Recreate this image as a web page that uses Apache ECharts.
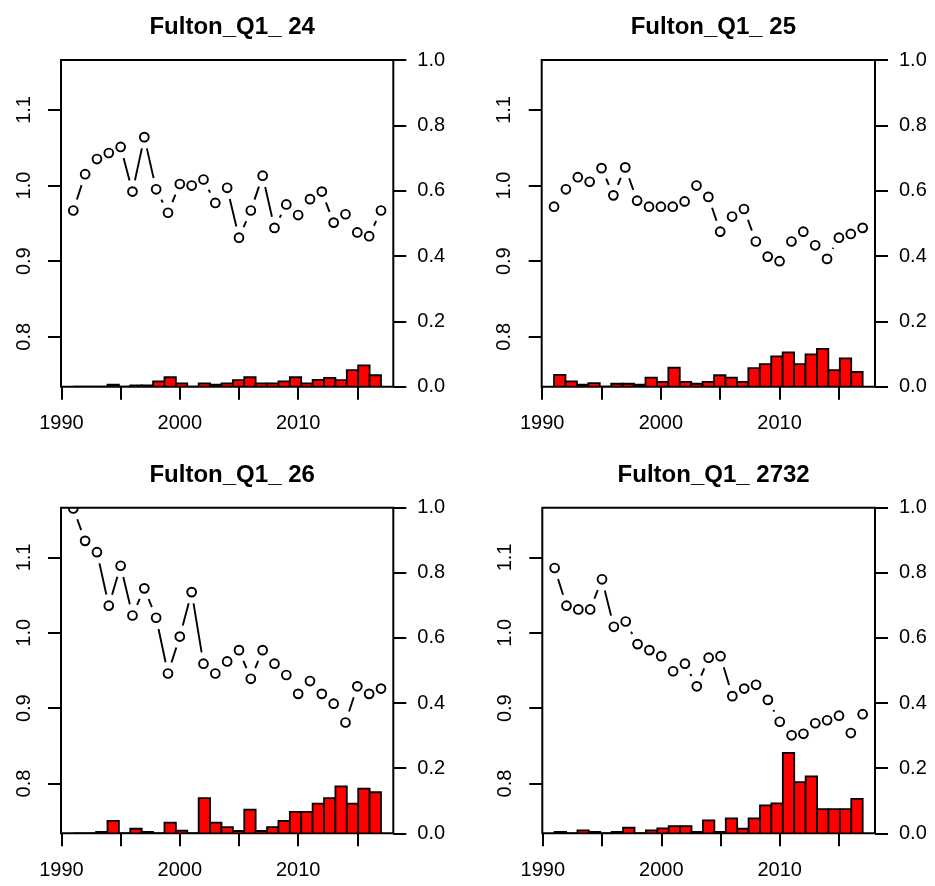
<!DOCTYPE html>
<html>
<head>
<meta charset="utf-8">
<script src="https://cdn.jsdelivr.net/npm/echarts@6/dist/echarts.min.js"></script>
<style>
html,body{margin:0;padding:0;background:#fff;}
#chart{width:935px;height:886px;}
</style>
</head>
<body>
<div id="chart"></div>
<script>
// ---- data ----
const years = [1991,1992,1993,1994,1995,1996,1997,1998,1999,2000,2001,2002,2003,2004,2005,2006,2007,2008,2009,2010,2011,2012,2013,2014,2015,2016,2017];
const titles = ['Fulton_Q1_ 24', 'Fulton_Q1_ 25', 'Fulton_Q1_ 26', 'Fulton_Q1_ 2732'];

const fulton24 = [0.967,1.015,1.035,1.043,1.051,0.992,1.064,0.995,0.964,1.002,1.000,1.008,0.977,0.997,0.931,0.967,1.013,0.944,0.975,0.961,0.982,0.992,0.951,0.962,0.938,0.933,0.967];
const prop24   = [0,0,0,0.006,0,0.004,0.004,0.016,0.029,0.010,0,0.010,0.006,0.010,0.020,0.029,0.010,0.010,0.016,0.029,0.010,0.021,0.027,0.020,0.051,0.065,0.035];

const fulton25 = [0.972,0.995,1.011,1.005,1.023,0.987,1.024,0.980,0.972,0.972,0.972,0.979,1.000,0.985,0.939,0.959,0.969,0.926,0.906,0.900,0.926,0.939,0.921,0.903,0.931,0.936,0.944];
const prop25   = [0.036,0.016,0.006,0.011,0,0.009,0.009,0.006,0.028,0.015,0.058,0.015,0.009,0.015,0.035,0.028,0.015,0.057,0.069,0.093,0.105,0.069,0.099,0.116,0.051,0.087,0.045];

const fulton26 = [1.165,1.122,1.107,1.036,1.089,1.023,1.059,1.020,0.946,0.995,1.054,0.959,0.946,0.962,0.977,0.939,0.977,0.959,0.944,0.919,0.936,0.919,0.906,0.881,0.929,0.919,0.926];
const prop26   = [0,0,0.004,0.038,0,0.014,0.004,0,0.033,0.008,0,0.108,0.033,0.019,0.007,0.073,0.007,0.019,0.038,0.066,0.066,0.091,0.108,0.144,0.091,0.137,0.126];

const fulton2732 = [1.086,1.036,1.031,1.031,1.071,1.008,1.015,0.985,0.977,0.969,0.949,0.959,0.929,0.967,0.969,0.916,0.926,0.931,0.911,0.882,0.864,0.866,0.880,0.884,0.890,0.867,0.892];
const prop2732   = [0.004,0,0.009,0.004,0,0.004,0.017,0,0.009,0.015,0.022,0.022,0.004,0.040,0.004,0.046,0.014,0.046,0.086,0.092,0.247,0.157,0.175,0.074,0.074,0.074,0.106];

const xTickValues = [1990,1995,2000,2005,2010,2015];
const xLabelValues = [1990,2000,2010];
const leftTickValues = [0.8,0.9,1.0,1.1];

const fultonSets = [fulton24, fulton25, fulton26, fulton2732];
const propSets = [prop24, prop25, prop26, prop2732];

// ---- layout ----
const grids = [
  {left:61,    top:60,    width:332.3, height:326.7},
  {left:541.7, top:60,    width:333.3, height:326.7},
  {left:61,    top:507.7, width:332.3, height:325.6},
  {left:542.3, top:507.7, width:332.7, height:325.6}
];
const titleTops = [10, 10, 458, 458];

const FONT = '"Liberation Sans", Arial, Helvetica, sans-serif';
const n = years.length;
const span = years[n-1] - years[0];
const xMin = years[0] - span*0.04, xMax = years[n-1] + span*0.04;
const barW = span / n;

const option = {
  animation: false,
  backgroundColor: '#fff',
  title: [], grid: [], xAxis: [], yAxis: [], series: []
};

const tickStyle = {show:true, length:13, lineStyle:{color:'#000', width:2}};
const labelStyle = {color:'#000', fontSize:20, fontFamily:FONT};

grids.forEach((g, k) => {
  option.grid.push(Object.assign({show:true, borderColor:'#000', borderWidth:2, backgroundColor:'transparent'}, g));
  option.title.push({
    text: titles[k], left: g.left + g.width/2, top: titleTops[k], textAlign:'center',
    textStyle:{fontSize:24, fontWeight:'bold', color:'#000', fontFamily:FONT}
  });
  option.xAxis.push({
    type:'value', gridIndex:k, min:xMin, max:xMax,
    axisLine:{show:false}, splitLine:{show:false},
    axisTick:Object.assign({customValues:xTickValues}, tickStyle),
    axisLabel:Object.assign({customValues:xLabelValues, margin:27, formatter:v=>String(Math.round(v))}, labelStyle)
  });
  option.yAxis.push({
    type:'value', gridIndex:k, position:'left', min:0.734, max:1.166,
    axisLine:{show:false}, splitLine:{show:false},
    axisTick:Object.assign({customValues:leftTickValues}, tickStyle),
    axisLabel:Object.assign({customValues:leftTickValues, rotate:90, margin:27, formatter:v=>v.toFixed(1)}, labelStyle)
  });
  option.yAxis.push({
    type:'value', gridIndex:k, position:'right', min:0, max:1, interval:0.2,
    axisLine:{show:false}, splitLine:{show:false},
    axisTick:tickStyle,
    axisLabel:Object.assign({margin:24, formatter:v=>v.toFixed(1)}, labelStyle)
  });

  const props = propSets[k];
  const barData = props.map((v, i) => [years[0] + i*barW, years[0] + (i+1)*barW, v]);
  option.series.push({
    type:'custom', coordinateSystem:'cartesian2d', xAxisIndex:k, yAxisIndex:2*k+1,
    silent:true, clip:true, encode:{x:[0,1], y:2},
    data: barData,
    renderItem:(params, api) => {
      const p0 = api.coord([api.value(0), api.value(2)]);
      const p1 = api.coord([api.value(1), 0]);
      return {type:'rect', shape:{x:p0[0], y:p0[1], width:p1[0]-p0[0], height:p1[1]-p0[1]},
              style:{fill:'#ff0000', stroke:'#000', lineWidth:1.8}};
    }
  });

  const vals = fultonSets[k];
  const ptData = vals.map((v, i) => [years[i], v, i < n-1 ? years[i+1] : years[i], i < n-1 ? vals[i+1] : v]);
  option.series.push({
    type:'custom', coordinateSystem:'cartesian2d', xAxisIndex:k, yAxisIndex:2*k,
    silent:true, clip:true, encode:{x:[0,2], y:[1,3]},
    data: ptData,
    renderItem:(params, api) => {
      const i = params.dataIndex;
      const p = api.coord([api.value(0), api.value(1)]);
      const children = [{type:'circle', shape:{cx:p[0], cy:p[1], r:4.4},
        style:{fill:'none', stroke:'#000', lineWidth:1.9}}];
      if (i < n-1) {
        const q = api.coord([api.value(2), api.value(3)]);
        const dx = q[0]-p[0], dy = q[1]-p[1];
        const d = Math.sqrt(dx*dx + dy*dy);
        const gap = 11.5;
        if (d > 2*gap) {
          const ux = dx/d, uy = dy/d;
          children.push({type:'line', shape:{x1:p[0]+ux*gap, y1:p[1]+uy*gap, x2:q[0]-ux*gap, y2:q[1]-uy*gap},
            style:{stroke:'#000', lineWidth:1.9}});
        }
      }
      return {type:'group', children};
    }
  });
});

const chart = echarts.init(document.getElementById('chart'), null, {renderer:'canvas'});
chart.setOption(option);
</script>
</body>
</html>
